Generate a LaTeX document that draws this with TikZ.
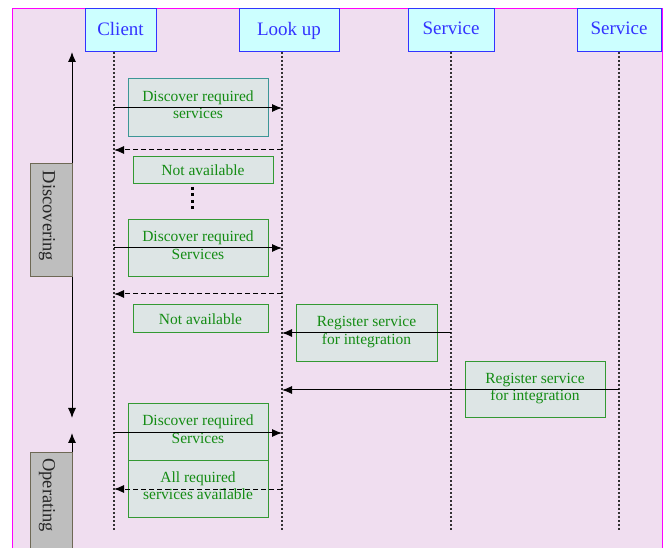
\documentclass[tikz,border=0pt]{standalone}
\usepackage{fontspec}
\setmainfont{Liberation Serif}
\usetikzlibrary{arrows.meta}
\definecolor{bgpink}{RGB}{240,222,240}
\definecolor{framemag}{RGB}{255,0,255}
\definecolor{hdrfill}{RGB}{204,255,255}
\definecolor{hdrblue}{RGB}{51,51,255}
\definecolor{boxfill}{RGB}{221,229,229}
\definecolor{boxgreen}{RGB}{51,153,51}
\definecolor{txtgreen}{RGB}{20,140,20}
\definecolor{boxteal}{RGB}{60,150,150}
\definecolor{phasefill}{RGB}{190,190,190}
\definecolor{phaseedge}{RGB}{110,105,85}
\definecolor{lifegray}{RGB}{50,50,50}
\begin{document}
\begin{tikzpicture}[x=1pt,y=-1pt,
  hdr/.style={draw=hdrblue, fill=hdrfill, line width=1pt, text=hdrblue,
    font=\fontsize{19}{19}\selectfont, inner sep=0pt},
  msgbox/.style={draw=boxgreen, fill=boxfill, line width=1pt, text=txtgreen,
    font=\fontsize{15.5}{17.5}\selectfont, align=center, inner sep=0pt},
  phase/.style={draw=phaseedge, fill=phasefill, line width=1pt, inner sep=0pt},
  phasetext/.style={text=black!85, font=\fontsize{18.5}{18.5}\selectfont, rotate=-90, inner sep=0pt},
  lifeline/.style={lifegray, line width=1.5pt, dash pattern=on 2pt off 2pt},
  msg/.style={black, line width=1pt, -{Latex[length=10pt,width=8pt]}},
  reply/.style={msg, dash pattern=on 5pt off 3pt},
  phasearrow/.style={black, line width=1pt}
]
\useasboundingbox (0,0) rectangle (665,548);
\fill[white] (0,0) rectangle (665,548);
\begin{scope}
\clip (0,0) rectangle (665,548);
\draw[framemag, fill=bgpink, line width=1pt] (12.5,8.5) rectangle (662,570);

% headers
\node[hdr, minimum width=71pt, minimum height=43pt] (client) at (120.5,30.5) {\raisebox{4pt}{Client}};
\node[hdr, minimum width=100pt, minimum height=43pt] (lookup) at (289,30.5) {\raisebox{4pt}{Look up}};
\node[hdr, minimum width=86pt, minimum height=43pt] (serva) at (451,30.5) {\raisebox{4pt}{Service}};
\node[hdr, minimum width=84pt, minimum height=43pt] (servb) at (619,30.5) {\raisebox{4pt}{Service}};

% lifeline ends
\coordinate (clientEnd) at (114,530);
\coordinate (lookupEnd) at (282,530);
\coordinate (servaEnd) at (451,530);
\coordinate (servbEnd) at (619,530);
\draw[lifeline] (114,52) -- (clientEnd);
\draw[lifeline] (282,52) -- (lookupEnd);
\draw[lifeline] (451,52) -- (servaEnd);
\draw[lifeline] (619,52) -- (servbEnd);

% message boxes
\node[msgbox, draw=boxteal, minimum width=140pt, minimum height=58pt] (b1) at (198,108) {Discover required\\services\\[-11pt]};
\node[msgbox, minimum width=140pt, minimum height=27pt] (b2) at (203,170.5) {Not available};
\node[msgbox, minimum width=140pt, minimum height=57pt] (b3) at (198,248.5) {Discover required\\Services\\[-11pt]};
\node[msgbox, minimum width=135pt, minimum height=28pt] (b4) at (200.5,319) {Not available};
\node[msgbox, minimum width=141pt, minimum height=57pt] (b5) at (366.5,333.5) {Register service\\for integration\\[-11pt]};
\node[msgbox, minimum width=140pt, minimum height=56pt] (b6) at (535,390) {Register service\\for integration\\[-11pt]};
\node[msgbox, minimum width=140pt, minimum height=57pt] (b7) at (198,432.5) {Discover required\\Services\\[-11pt]};
\node[msgbox, minimum width=140pt, minimum height=56pt] (b8) at (198,489) {All required\\services available\\[-11pt]};

% ellipsis dots
\coordinate (dotsTop) at (192,187);
\coordinate (dotsBot) at (192,213);
\draw[black, line width=3pt, dash pattern=on 3pt off 3.5pt] (dotsTop) -- (dotsBot);

% lifeline points
\coordinate (c1) at (114,108);  \coordinate (l1) at (282,108);
\coordinate (c2) at (114,150);  \coordinate (l2) at (282,150);
\coordinate (c3) at (114,248);  \coordinate (l3) at (282,248);
\coordinate (c4) at (114,294);  \coordinate (l4) at (282,294);
\coordinate (l5) at (282,333);  \coordinate (s5) at (451,333);
\coordinate (l6) at (282,390);  \coordinate (s6) at (619,390);
\coordinate (c7) at (114,433);  \coordinate (l7) at (282,433);
\coordinate (c8) at (114,489);  \coordinate (l8) at (282,489);

\draw[msg] (c1) -- (l1);
\draw[reply] (l2) -- (c2);
\draw[msg] (c3) -- (l3);
\draw[reply] (l4) -- (c4);
\draw[msg] (s5) -- (l5);
\draw[msg] (s6) -- (l6);
\draw[msg] (c7) -- (l7);
\draw[reply] (l8) -- (c8);

% phases
\coordinate (discTop) at (72,52);
\coordinate (discBot) at (72,418);
\draw[phasearrow, {Latex[length=10pt,width=8pt]}-{Latex[length=10pt,width=8pt]}] (discTop) -- (discBot);
\node[phase, minimum width=42pt, minimum height=113pt] (disc) at (51,220.5) {};
\node[phasetext] (disctext) at (47,216) {Discovering};

\coordinate (opTop) at (72,433);
\coordinate (opBot) at (72,560);
\draw[phasearrow, -{Latex[length=10pt,width=8pt]}] (opBot) -- (opTop);
\node[phase, minimum width=42pt, minimum height=110pt] (oper) at (51,508) {};
\node[phasetext, anchor=west] (opertext) at (47,458) {Operating};
\end{scope}
\end{tikzpicture}
\end{document}
